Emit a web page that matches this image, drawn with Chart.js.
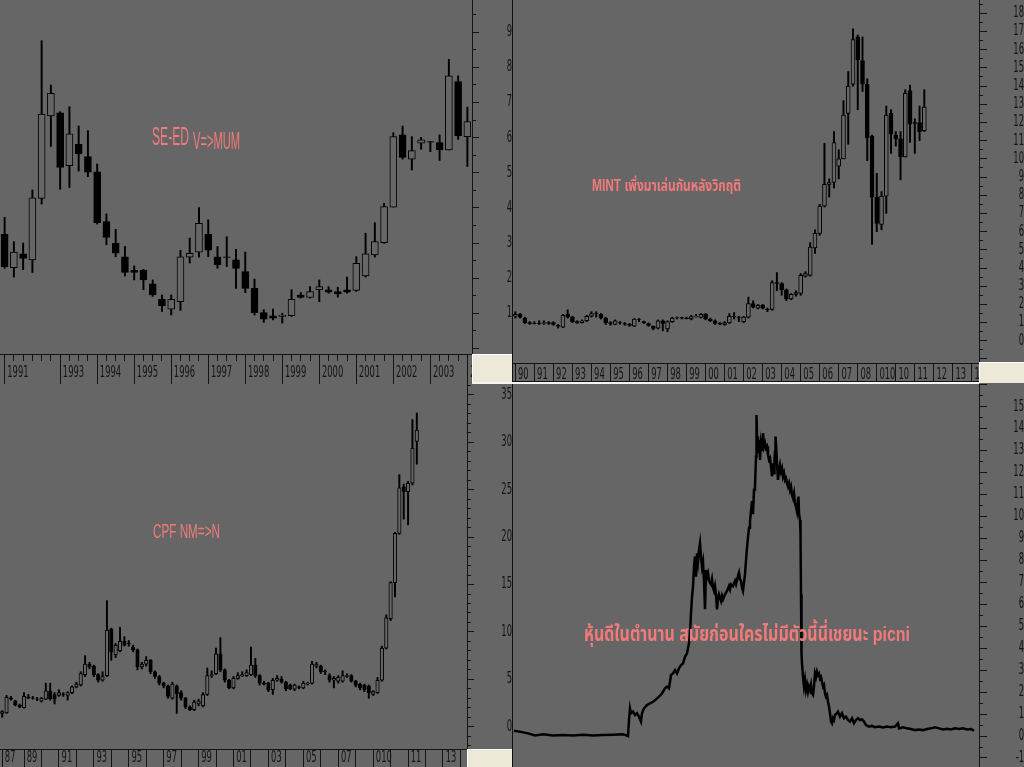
<!DOCTYPE html>
<html><head><meta charset="utf-8">
<script src="https://cdn.jsdelivr.net/npm/chart.js@4.4.0/dist/chart.umd.min.js"></script>
<style>
html,body{margin:0;padding:0;background:#666666;width:1024px;height:767px;overflow:hidden;position:relative}
canvas{position:absolute;display:block}
.deco{position:absolute;box-sizing:border-box}
.note{position:absolute;white-space:nowrap;color:#f27a7a;line-height:1;transform-origin:0 0}
</style></head><body>
<canvas id="tl" width="512" height="384" style="left:0;top:0;width:512px;height:384px"></canvas>
<canvas id="tr" width="511" height="383" style="left:513px;top:0;width:511px;height:383px"></canvas>
<canvas id="bl" width="512" height="383" style="left:0;top:384px;width:512px;height:383px"></canvas>
<canvas id="br" width="511" height="383" style="left:513px;top:384px;width:511px;height:383px"></canvas>

<div class="deco" style="left:512px;top:0;width:1px;height:767px;background:#111"></div>
<div class="deco" style="left:472px;top:354px;width:40px;height:29px;background:#ece9d8;border-top:1px solid #fff;border-left:1px solid #fff"></div>
<div class="deco" style="left:513px;top:381px;width:466px;height:1px;background:#111"></div>
<div class="deco" style="left:472px;top:382px;width:507px;height:2px;background:#f4f4f4"></div>
<div class="deco" style="left:979px;top:362px;width:45px;height:21px;background:#ece9d8;border-top:1px solid #fff;border-left:1px solid #fff"></div>
<div class="deco" style="left:467px;top:749px;width:45px;height:18px;background:#ece9d8;border-top:1px solid #fff;border-left:1px solid #fff"></div>

<div class="note" data-w="37" style="left:152px;top:122px;font:25px 'Liberation Sans',Arial,sans-serif">SE-ED</div>
<div class="note" data-w="47" style="left:193px;top:127px;font:24px 'Liberation Sans',Arial,sans-serif">V=&gt;MUM</div>
<div class="note" data-w="149" style="left:592px;top:174px;font:bold 16px 'Liberation Sans','Noto Sans Thai','Loma','Garuda','Noto Sans',sans-serif">MINT เพิ่งมาเล่นกันหลังวิกฤติ</div>
<div class="note" data-w="67" style="left:153px;top:519px;font:21px 'Liberation Sans',Arial,sans-serif">CPF NM=&gt;N</div>
<div class="note" data-w="326" style="left:584px;top:619px;font:bold 21px 'Liberation Sans','Noto Sans Thai','Loma','Garuda','Noto Sans',sans-serif">หุ้นดีในตำนาน สมัยก่อนใครไม่มีตัวนี้นี่เชยนะ picni</div>

<script>
// ---------- SE-ED (quarterly candles, from 1991 Q3) ----------
const tlOpen  = [3.25,2.30,2.69,2.52,4.27,6.62,6.71,5.20,5.81,5.46,5.03,3.61,2.99,2.61,2.22,2.22,1.84,1.40,1.12,1.33,2.60,2.74,3.25,2.61,2.61,2.52,2.19,1.71,1.02,0.93,0.91,0.93,1.52,1.45,1.67,1.67,1.62,1.67,1.65,2.06,2.66,3.01,4.02,6.08,5.39,5.84,5.89,5.86,5.65,7.60,6.03];
const tlHigh  = [3.73,3.04,3.00,4.51,8.76,7.50,6.74,6.88,6.33,6.20,5.25,3.83,3.39,2.90,2.35,2.25,1.95,1.52,1.52,2.79,3.14,4.01,3.66,2.90,3.18,2.82,2.74,1.97,1.10,1.12,1.00,1.67,1.59,1.76,1.95,1.76,1.74,2.03,2.61,3.28,3.58,4.13,6.14,6.33,6.03,6.01,5.89,6.08,8.23,7.76,6.87];
const tlLow   = [2.28,2.03,2.24,2.16,4.11,5.75,4.53,4.58,5.05,4.89,3.54,2.95,2.61,2.06,1.95,1.67,1.48,1.05,0.95,1.08,2.43,2.60,2.61,2.28,2.33,1.71,1.59,0.95,0.74,0.81,0.72,0.91,1.43,1.43,1.33,1.57,1.46,1.57,1.62,2.03,2.60,2.99,4.02,5.39,5.08,5.67,5.60,5.35,5.65,5.95,5.18];
const tlClose = [2.33,2.74,2.56,4.29,6.67,7.26,5.15,6.11,5.54,5.02,3.58,3.16,2.71,2.16,2.16,1.95,1.52,1.21,1.40,2.61,2.71,3.56,2.80,2.38,2.59,2.28,1.71,1.02,0.83,0.86,0.95,1.40,1.45,1.62,1.76,1.60,1.55,1.60,2.42,2.69,3.04,4.04,6.03,5.44,5.63,5.94,5.87,5.65,7.76,6.05,6.46];
const tlTicks = {'1991Q3':'1991','1993Q1':'1993','1994Q1':'1994','1995Q1':'1995','1996Q1':'1996','1997Q1':'1997','1998Q1':'1998','1999Q1':'1999','2000Q1':'2000','2001Q1':'2001','2002Q1':'2002','2003Q1':'2003','2004Q1':'2'};
const tlYLabels = [1,2,3,4,5,6,7,8,9];

// ---------- MINT (quarterly candles, from 1990 Q1) ----------
const trOpen  = [1.35,1.45,1.25,1.0,0.98,0.96,0.95,1.0,1.0,0.85,0.75,1.45,1.3,1.05,1.0,1.1,1.35,1.5,1.45,1.25,1.0,0.9,1.0,0.95,0.9,0.8,1.2,1.05,0.95,0.8,0.7,1.1,0.65,1.05,1.25,1.27,1.25,1.2,1.33,1.28,1.45,1.2,1.1,0.98,0.9,0.98,1.35,1.3,1.05,1.3,2.05,1.8,1.95,1.75,1.72,3.2,3.15,2.8,2.3,2.55,2.6,3.55,3.6,5.1,5.9,7.4,8.6,8.7,9.6,10.0,12.5,14.1,16.7,15.4,14.1,11.25,7.9,6.4,7.95,12.5,11.3,11.1,10.1,13.75,12.0,12.0,11.55];
const trHigh  = [1.6,1.5,1.3,1.05,1.05,1.1,1.1,1.05,1.05,0.9,1.45,1.7,1.35,1.1,1.15,1.4,1.6,1.6,1.5,1.3,1.05,1.15,1.05,1.0,0.95,1.22,1.22,1.08,0.98,0.82,1.15,1.15,1.1,1.3,1.32,1.3,1.3,1.4,1.45,1.5,1.5,1.25,1.15,1.0,1.05,1.5,1.55,1.35,1.35,2.4,2.2,2.0,2.0,1.8,3.3,3.75,3.2,2.85,2.6,2.75,3.7,3.8,5.4,6.1,7.5,10.85,8.9,11.5,10.5,13.2,14.8,17.15,16.8,16.7,14.4,11.3,9.2,8.2,12.9,12.7,11.5,11.5,13.8,14.05,12.2,12.9,13.8];
const trLow   = [1.25,1.25,0.95,0.9,0.92,0.9,0.9,0.9,0.85,0.7,0.72,1.25,1.0,0.95,0.98,1.05,1.3,1.3,1.2,0.9,0.85,0.88,0.92,0.85,0.8,0.78,1.05,0.95,0.8,0.6,0.65,0.55,0.5,1.0,1.2,1.2,1.2,1.15,1.3,1.25,1.15,1.05,0.9,0.88,0.85,0.95,1.2,1.05,1.0,1.25,1.8,1.75,1.75,1.6,1.68,2.75,2.5,2.2,2.25,2.45,2.5,3.5,3.55,4.8,5.8,7.35,7.9,8.4,8.9,10.0,10.8,14.0,12.7,13.7,9.9,5.3,6.0,6.1,7.0,10.3,10.7,8.85,10.1,10.9,10.3,11.0,11.5];
const trClose = [1.45,1.3,1.0,0.95,0.96,0.95,1.0,0.95,0.9,0.8,1.4,1.3,1.05,1.0,1.1,1.35,1.5,1.48,1.25,1.0,0.95,1.1,0.98,0.92,0.85,1.2,1.18,1.0,0.85,0.68,1.1,0.95,1.05,1.25,1.27,1.25,1.22,1.33,1.35,1.45,1.2,1.1,0.95,0.92,1.0,1.35,1.33,1.28,1.3,2.05,1.85,1.95,1.8,1.7,3.2,3.15,2.8,2.3,2.55,2.65,3.6,3.7,5.15,5.9,7.4,8.6,8.7,10.9,10.0,12.4,14.0,16.55,15.45,14.1,11.15,7.9,6.45,7.95,12.4,11.35,11.1,10.1,13.6,11.9,11.95,11.5,12.85];
const trTicks = {'1990Q1':'90','1991Q1':'91','1992Q1':'92','1993Q1':'93','1994Q1':'94','1995Q1':'95','1996Q1':'96','1997Q1':'97','1998Q1':'98','1999Q1':'99','2000Q1':'00','2001Q1':'01','2002Q1':'02','2003Q1':'03','2004Q1':'04','2005Q1':'05','2006Q1':'06','2007Q1':'07','2008Q1':'08','2009Q1':'010','2010Q1':'10','2011Q1':'11','2012Q1':'12','2013Q1':'13','2014Q1':'1'};
const trYLabels = [0,1,2,3,4,5,6,7,8,9,10,11,12,13,14,15,16,17,18];

// ---------- CPF (quarterly candles, from 1987 Q4) ----------
const blOpen  = [1.4,1.45,3.05,2.7,2.3,2.0,3.1,3.05,2.95,2.7,2.9,3.75,3.4,3.3,3.45,3.3,3.6,4.2,4.4,5.5,6.6,6.4,5.5,4.9,5.4,10.3,7.6,8.0,9.0,8.8,8.4,8.1,6.3,6.6,7.0,5.8,5.3,4.6,4.3,3.0,4.3,3.6,3.0,2.1,1.8,2.4,2.2,3.4,5.4,5.6,7.7,6.0,4.9,4.1,5.1,5.4,5.4,5.5,6.5,5.4,4.6,4.6,3.9,4.9,5.0,4.7,4.4,3.95,4.2,4.1,4.5,4.6,6.4,6.4,5.85,5.4,4.9,4.8,4.8,5.3,5.4,4.8,4.5,4.4,4.3,3.4,3.6,4.9,8.3,11.4,15.2,20.4,25.3,24.8,25.7,30.1];
const blHigh  = [1.7,3.3,3.2,2.8,2.4,3.6,3.4,3.2,3.1,3.1,4.6,4.6,3.6,3.9,3.6,3.7,4.3,4.7,5.8,7.5,6.8,6.5,5.6,5.8,13.3,10.4,8.8,10.5,9.5,9.1,8.6,8.2,6.8,7.4,7.1,5.9,5.4,4.7,4.4,4.7,4.4,3.8,3.1,2.2,2.8,2.9,3.6,6.2,5.9,8.3,9.4,6.1,5.0,5.3,5.7,5.8,6.0,8.4,7.2,5.5,4.8,4.7,5.1,5.4,5.3,4.8,4.5,4.5,4.3,4.8,4.7,6.9,6.8,6.5,6.0,5.6,5.3,5.4,5.9,5.6,5.5,4.9,4.6,4.5,4.4,3.8,5.2,8.5,11.8,15.3,20.5,26.6,25.6,25.9,32.4,33.1];
const blLow   = [1.0,1.4,2.8,2.2,2.0,1.95,2.95,2.9,2.75,2.6,2.85,2.8,2.4,3.2,3.2,2.8,3.5,4.1,4.3,5.3,6.1,5.3,4.7,4.8,5.3,7.0,7.3,7.9,8.5,8.5,7.9,6.0,6.1,6.4,5.6,5.1,4.4,4.1,3.0,2.9,1.4,2.8,1.9,1.7,1.7,2.2,2.1,3.3,5.2,5.5,5.8,4.7,4.0,4.0,5.0,5.3,5.3,5.4,5.2,4.4,4.4,3.7,3.4,4.8,4.6,3.8,3.9,3.8,4.0,4.0,4.4,4.5,6.2,5.6,5.5,4.7,4.1,4.6,4.7,5.2,4.7,4.2,3.9,3.7,3.0,3.3,3.5,4.8,8.2,11.2,13.7,20.3,21.9,21.3,25.5,27.7];
const blClose = [1.6,3.1,2.9,2.3,2.1,3.2,3.05,3.0,2.9,3.0,3.8,2.95,2.9,3.6,3.4,3.6,4.2,4.5,5.6,6.6,6.3,5.5,4.9,5.3,10.2,7.9,8.6,9.0,8.6,8.75,8.1,6.3,6.6,7.0,5.8,5.3,4.6,4.3,3.2,4.5,3.5,3.0,2.1,1.8,2.6,2.7,3.4,5.4,5.5,7.7,6.0,4.9,4.1,5.1,5.4,5.5,5.7,6.5,5.4,4.6,4.5,3.9,4.9,5.1,4.7,4.0,4.0,4.4,4.15,4.6,4.6,6.6,6.6,5.8,5.8,4.9,5.1,5.2,5.4,5.4,4.8,4.35,4.1,3.9,3.6,3.7,4.9,8.3,11.5,15.2,20.4,25.2,24.8,25.7,29.4,31.3];
const blTicks = {'1987Q4':'87','1989Q1':'89','1990Q1':'','1991Q1':'91','1992Q1':'','1993Q1':'93','1994Q1':'','1995Q1':'95','1996Q1':'','1997Q1':'97','1998Q1':'','1999Q1':'99','2000Q1':'','2001Q1':'01','2002Q1':'','2003Q1':'03','2004Q1':'','2005Q1':'05','2006Q1':'','2007Q1':'07','2008Q1':'','2009Q1':'010','2010Q1':'','2011Q1':'11','2012Q1':'','2013Q1':'13','2014Q1':''};
const blYLabels = [0,5,10,15,20,25,30,35];

// ---------- picni (daily close line; time index) ----------
const brT = [1,8,16,22,30,40,50,60,70,80,90,100,110,114,115,
116,117,118,120,122,124,126,128,129,131,134,137,140,143,146,149,152,154,156,158,160,162,164,166,168,170,172,174,176,177,178,179,180,181,182,183,184,185,186,187,188,189,190,191,192,193,194,195,196,198,199,200,201,202,203,204,205,206,208,209,210,212,214,216,217,218,220,222,223,225,226,227,228,229,230,231,232,233,234,235,236,237,238,239,240,241,242,243,243.5,244,245,246,247,248,249,250,251,252,253,254,255,256,257,258,259,260,261,261.5,262,262.5,263,264,265,266,267,268,269,270,271,272,273,274,275,276,277,278,279,280,281,282,283,284,285,285.5,286,287,287.5,
288,288.3,288.7,289,290,291,292,293,294,295,296,297,298,299,300,301,302,303,304,305,306,307,308,309,310,311,312,313,314,315,316,317,318,319,320,321,322,324,325,327,329,331,333,335,337,339,341,343,345,347,349,351,353,356,359,362,366,370,374,378,382,385,386,390,394,398,402,406,410,414,418,422,426,430,434,438,442,446,450,454,458,461];
const brV = [0.24,0.19,0.11,0.03,0.08,0.02,0.05,0.03,0.06,0.03,0.05,0.06,0.08,0.02,0.0,
0.73,1.26,1.04,1.11,0.96,1.04,0.88,0.66,1.04,1.26,1.41,1.49,1.56,1.67,1.79,1.94,2.17,2.25,2.17,2.78,2.85,3.0,2.85,3.08,3.23,3.3,3.61,3.76,4.22,4.67,5.58,6.34,6.8,7.71,8.17,7.26,8.32,7.94,8.47,8.78,8.17,7.71,7.94,7.06,5.77,7.56,7.26,7.41,7.06,6.91,7.14,6.76,6.61,6.83,6.45,5.77,6.22,6.45,6.15,6.38,6.22,6.45,6.61,6.83,6.68,6.91,6.83,7.06,6.91,7.29,7.44,7.14,7.06,6.76,6.61,6.99,7.37,7.98,8.58,9.04,9.49,9.79,10.25,10.7,10.1,11.21,11.36,12.72,14.62,13.64,12.88,13.49,12.57,13.34,13.03,13.79,13.19,13.34,13.11,13.19,12.81,12.57,12.65,12.27,11.82,12.42,11.97,12.6,12.96,13.64,13.3,12.42,11.66,12.12,12.35,12.04,12.19,11.82,11.97,11.66,11.74,11.51,11.36,11.51,11.21,11.36,10.98,10.83,11.06,10.6,10.45,10.22,10.76,10.91,10.15,9.84,9.23,
6.45,5.24,3.76,3.3,2.69,2.25,2.56,2.1,2.33,2.02,2.25,2.1,2.33,1.94,1.87,2.25,2.85,2.69,2.93,2.78,2.85,2.62,2.69,2.47,2.25,2.33,1.94,1.79,1.87,1.56,1.34,1.04,0.66,0.58,0.81,0.73,0.96,1.04,1.11,0.88,1.04,0.81,0.88,0.73,0.66,0.81,0.58,0.73,0.81,0.73,0.76,0.66,0.5,0.43,0.46,0.4,0.43,0.39,0.43,0.4,0.43,0.58,0.35,0.4,0.35,0.32,0.27,0.3,0.27,0.32,0.35,0.4,0.35,0.3,0.33,0.3,0.35,0.32,0.35,0.3,0.32,0.24];
const brYLabels = [-1,0,1,2,3,4,5,6,7,8,9,10,11,12,13,14,15];

// ---------- helpers ----------
function quarters(y, q, n) { const out = []; for (let i = 0; i < n; i++) { out.push(y + 'Q' + q); q++; if (q > 4) { q = 1; y++; } } return out; }
const tlCats = quarters(1991, 3, 51);
const trCats = quarters(1990, 1, 98);
const blCats = quarters(1987, 4, 107);

const INK = '#141414';
const GREY = '#666666';
const AXFONT = { family: "'DejaVu Sans Condensed','Liberation Sans Narrow','Liberation Sans',sans-serif", size: 15 };
const SQUEEZE = 0.62;   // the original axis lettering is tall and narrow

// canvas text drawn by Chart.js is compressed horizontally via fillText's maxWidth argument
function narrowText(id) {
  const ctx = document.getElementById(id).getContext('2d');
  const orig = ctx.fillText;
  ctx.fillText = function (t, x, y) {
    const w = this.measureText(t).width;
    return w > 0 ? orig.call(this, t, x, y, w * SQUEEZE) : undefined;
  };
}
['tl', 'tr', 'bl', 'br'].forEach(narrowText);

function candles(o, h, l, c, bodyW) {
  return [
    { data: o.map((v, i) => [v, c[i]]), backgroundColor: o.map((v, i) => c[i] < v ? '#000' : GREY),
      borderColor: '#000', borderWidth: 1, borderSkipped: false, barThickness: bodyW, grouped: false, order: 1 },
    { data: l.map((v, i) => [v, h[i]]), backgroundColor: '#000', borderWidth: 0, barThickness: 1.3, grouped: false, order: 2 }
  ];
}
function xAxis(cats, tickMap, o) {
  return {
    type: 'category', offset: true,
    afterFit: s => { s.height = o.height; s.paddingLeft = 0; s.paddingRight = 0; },
    ticks: { autoSkip: false, maxRotation: 0, minRotation: 0, align: 'start', padding: o.pad, color: INK, font: AXFONT,
      callback: (v, i) => (tickMap[cats[i]] ? ' ' + tickMap[cats[i]] : '') },
    grid: { display: true, drawOnChartArea: false, drawTicks: true, offset: false, tickLength: o.height, tickWidth: 1,
      tickColor: c => ((cats[c.index] in tickMap) || o.minor) ? INK : 'rgba(0,0,0,0)',
      tickBorderDash: c => (cats[c.index] in tickMap) ? [] : [o.minor || 1, 300] },
    border: { display: true, color: INK, width: 1 }
  };
}
function yAxis(min, max, step, labels, isMajor, o) {
  return {
    position: 'right', min, max,
    afterFit: s => { s.width = o.width; s.paddingTop = 0; s.paddingBottom = 0; },
    ticks: { stepSize: step, includeBounds: false, autoSkip: false, crossAlign: 'far', padding: o.pad, color: INK, font: AXFONT,
      callback: v => labels.includes(v) ? String(v) : '' },
    grid: { drawOnChartArea: false, drawTicks: true, tickLength: o.major, tickWidth: 1, tickColor: INK,
      tickBorderDash: c => isMajor(c.tick.value) ? [] : [o.minor, 300] },
    border: { display: true, color: INK, width: 1 }
  };
}
const baseOpts = { responsive: false, animation: false, events: [],
  layout: { padding: 0, autoPadding: false },
  plugins: { legend: { display: false }, tooltip: { enabled: false } } };
const isInt = v => Number.isInteger(v);

new Chart(document.getElementById('tl'), {
  type: 'bar',
  data: { labels: tlCats, datasets: candles(tlOpen, tlHigh, tlLow, tlClose, 7) },
  options: Object.assign({}, baseOpts, { scales: {
    x: xAxis(tlCats, tlTicks, { height: 30, pad: -20, minor: 6 }),
    y: yAxis(-0.16, 9.92, 0.5, tlYLabels, isInt, { width: 40, pad: 20, major: 7, minor: 3 })
  } })
});
new Chart(document.getElementById('tr'), {
  type: 'bar',
  data: { labels: trCats, datasets: candles(trOpen, trHigh, trLow, trClose, 4) },
  options: Object.assign({}, baseOpts, { scales: {
    x: xAxis(trCats, trTicks, { height: 20, pad: -16.5, minor: 0 }),
    y: yAxis(-1.22, 18.73, 0.5, trYLabels, isInt, { width: 45, pad: 15, major: 8, minor: 3 })
  } })
});
new Chart(document.getElementById('bl'), {
  type: 'bar',
  data: { labels: blCats, datasets: candles(blOpen, blHigh, blLow, blClose, 3.5) },
  options: Object.assign({}, baseOpts, { scales: {
    x: xAxis(blCats, blTicks, { height: 18, pad: -18, minor: 0 }),
    y: yAxis(-2.35, 36.16, 1, blYLabels, v => v % 5 === 0, { width: 45, pad: 17, major: 7, minor: 3 })
  } })
});
new Chart(document.getElementById('br'), {
  type: 'line',
  data: { datasets: [{ data: brT.map((t, i) => ({ x: t, y: brV[i] })), borderColor: '#000', borderWidth: 2.5,
    pointRadius: 0, tension: 0, fill: false }] },
  options: Object.assign({}, baseOpts, { scales: {
    x: { type: 'linear', min: 0, max: 466, display: false },
    y: yAxis(-1.41, 16.03, 0.5, brYLabels, isInt, { width: 45, pad: 15, major: 8, minor: 3 })
  } })
});

document.querySelectorAll('.note').forEach(el => {
  const w = el.getBoundingClientRect().width;
  el.style.transform = 'scaleX(' + (parseFloat(el.dataset.w) / w) + ')';
});
</script>
</body></html>
